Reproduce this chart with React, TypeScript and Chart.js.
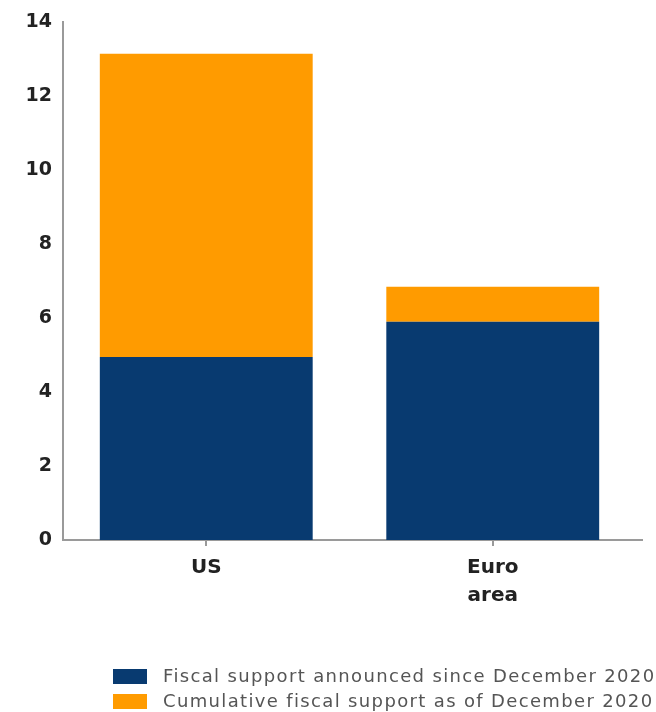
import React, { useEffect, useRef } from "react";
import { Chart, registerables } from "chart.js";

Chart.register(...registerables);

const categories: (string | string[])[] = ["US", ["Euro", "area"]];
const announcedSinceDec2020 = [4.95, 5.9];
const cumulativeAsOfDec2020 = [8.2, 0.95];
const seriesLabels = [
  "Fiscal support announced since December 2020",
  "Cumulative fiscal support as of December 2020",
];
const yTicks = [0, 2, 4, 6, 8, 10, 12, 14];

const NAVY = "#083a70";
const ORANGE = "#ff9b00";
const AXIS = "#9a9a9a";
const FONT = "'DejaVu Sans', Verdana, sans-serif";

export default function App() {
  const ref = useRef<HTMLCanvasElement | null>(null);

  useEffect(() => {
    if (!ref.current) return;
    const bottomLegend = {
      id: "bottomLegend",
      afterDraw(chart: any) {
        const ctx = chart.ctx as CanvasRenderingContext2D;
        ctx.save();
        // extend the x-axis baseline a little beyond the plot area, as in the reference
        const yb = chart.scales.x.top;
        ctx.strokeStyle = AXIS;
        ctx.lineWidth = 2;
        ctx.beginPath();
        ctx.moveTo(chart.chartArea.right - 1, yb);
        ctx.lineTo(chart.chartArea.right + 7, yb);
        ctx.stroke();
        chart.data.datasets.forEach((ds: any, i: number) => {
          const y = 669 + i * 25;
          ctx.fillStyle = ds.backgroundColor;
          ctx.fillRect(113, y, 34, 15);
          ctx.fillStyle = "#555555";
          ctx.font = `18px ${FONT}`;
          (ctx as any).letterSpacing = "1.35px";
          ctx.textAlign = "left";
          ctx.textBaseline = "middle";
          ctx.fillText(ds.label, 163, y + 8.5);
        });
        ctx.restore();
      },
    };
    const chart = new Chart(ref.current, {
      type: "bar",
      data: {
        labels: categories as any,
        datasets: [
          {
            label: seriesLabels[0],
            data: announcedSinceDec2020,
            backgroundColor: NAVY,
            borderWidth: 0,
            barPercentage: 0.743,
            categoryPercentage: 1,
          },
          {
            label: seriesLabels[1],
            data: cumulativeAsOfDec2020,
            backgroundColor: ORANGE,
            borderWidth: 0,
            barPercentage: 0.743,
            categoryPercentage: 1,
          },
        ],
      },
      options: {
        responsive: false,
        animation: false,
        layout: { padding: { top: 20, right: 20, bottom: 0, left: 0 } },
        plugins: {
          tooltip: { enabled: false },
          legend: { display: false },
        },
        scales: {
          x: {
            stacked: true,
            grid: {
              display: true,
              drawOnChartArea: false,
              drawTicks: true,
              tickLength: 6,
              offset: false,
              color: AXIS,
              lineWidth: 2,
            },
            border: { display: true, color: AXIS, width: 2 },
            ticks: {
              color: "#222222",
              padding: 8,
              font: { family: FONT, size: 20, weight: "bold", lineHeight: 1.4 },
            },
            afterFit(scale: any) {
              scale.height = 172;
            },
          },
          y: {
            stacked: true,
            min: 0,
            max: 14,
            afterBuildTicks(scale: any) {
              scale.ticks = yTicks.map((v) => ({ value: v }));
            },
            grid: { display: false, drawTicks: false },
            border: { display: true, color: AXIS, width: 2 },
            ticks: {
              color: "#222222",
              padding: 11,
              font: { family: FONT, size: 19, weight: "bold" },
            },
            afterFit(scale: any) {
              scale.width = 63;
            },
          },
        },
      },
      plugins: [bottomLegend],
    } as any);
    return () => chart.destroy();
  }, []);

  return (
    <div style={{ position: "fixed", left: 0, top: 0, width: 656, height: 712, background: "#fff" }}>
      <canvas ref={ref} width={656} height={712} />
    </div>
  );
}
